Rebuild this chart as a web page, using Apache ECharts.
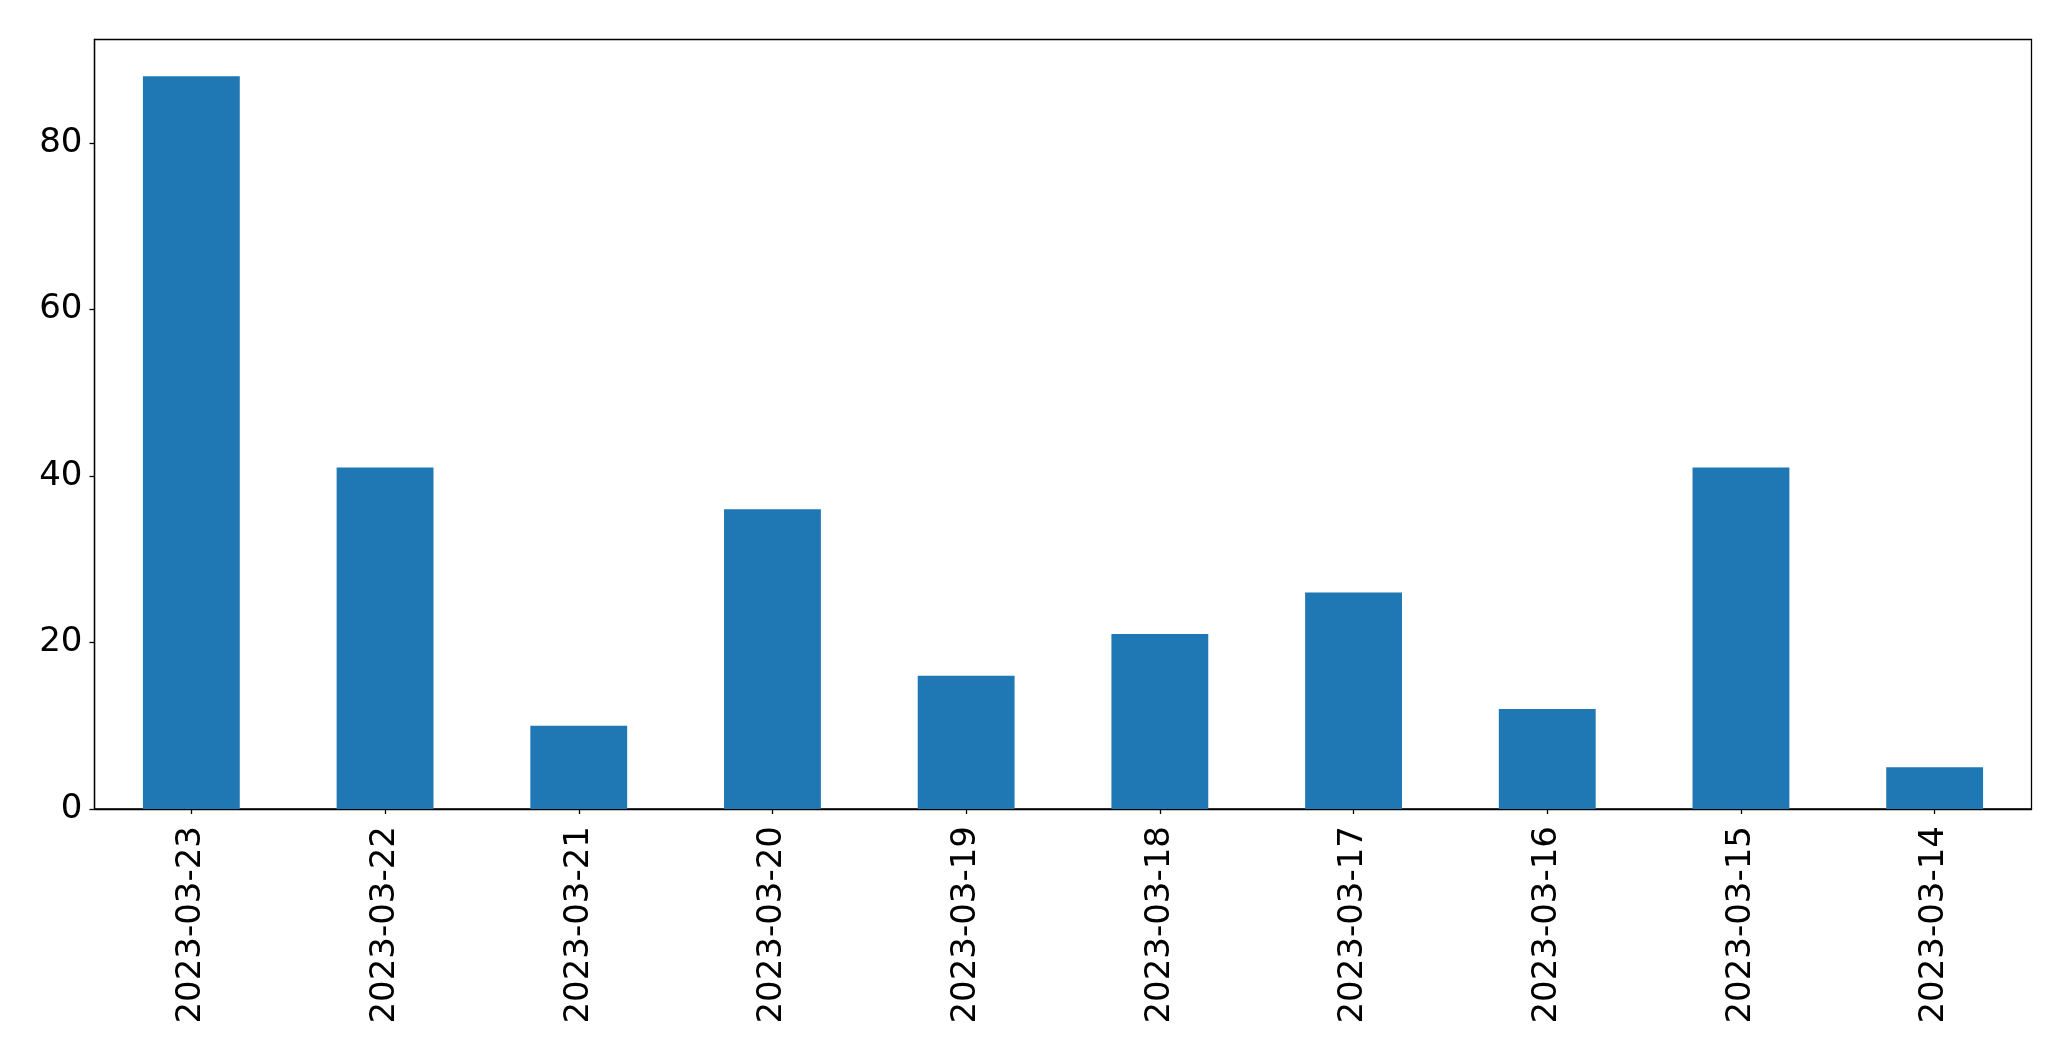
<!DOCTYPE html>
<html>
<head>
<meta charset="utf-8">
<title>Daily counts</title>
<script src="https://cdn.jsdelivr.net/npm/echarts@6/dist/echarts.min.js"></script>
<style>
  html, body { margin: 0; padding: 0; background: #fff; }
  #chart { width: 2071px; height: 1061px; }
</style>
</head>
<body>
<div id="chart"></div>
<script>
// data
const dates = ['2023-03-23', '2023-03-22', '2023-03-21', '2023-03-20', '2023-03-19',
  '2023-03-18', '2023-03-17', '2023-03-16', '2023-03-15', '2023-03-14']
const counts = [88, 41, 10, 36, 16, 21, 26, 12, 41, 5]
const yTicks = [0, 20, 40, 60, 80]

const chart = echarts.init(document.getElementById('chart'), null, { renderer: 'canvas' })
const font = 'DejaVu Sans'

chart.setOption({
  animation: false,
  grid: {
    left: 94.5,
    right: 39.5,
    top: 39.5,
    bottom: 252,
    show: true,
    borderColor: '#000',
    borderWidth: 1.3,
    backgroundColor: '#fff'
  },
  xAxis: {
    type: 'category',
    data: dates,
    boundaryGap: true,
    axisLine: { show: true, lineStyle: { color: '#000', width: 1.3 } },
    axisTick: { show: true, alignWithLabel: true, length: 5, lineStyle: { color: '#000', width: 1.3 } },
    axisLabel: {
      rotate: 90,
      interval: 0,
      margin: 17,
      color: '#000',
      fontFamily: font,
      fontSize: 34
    },
    splitLine: { show: false }
  },
  yAxis: {
    type: 'value',
    min: 0,
    max: 92.4,
    interval: 20,
    axisLine: { show: true, lineStyle: { color: '#000', width: 1.3 } },
    axisTick: { show: true, length: 5, customValues: yTicks, lineStyle: { color: '#000', width: 1.3 } },
    axisLabel: {
      customValues: yTicks,
      margin: 12,
      color: '#000',
      fontFamily: font,
      fontSize: 34
    },
    splitLine: { show: false }
  },
  series: [
    {
      type: 'bar',
      data: counts,
      barWidth: '50%',
      itemStyle: { color: '#1f77b4' }
    }
  ]
})
</script>
</body>
</html>
